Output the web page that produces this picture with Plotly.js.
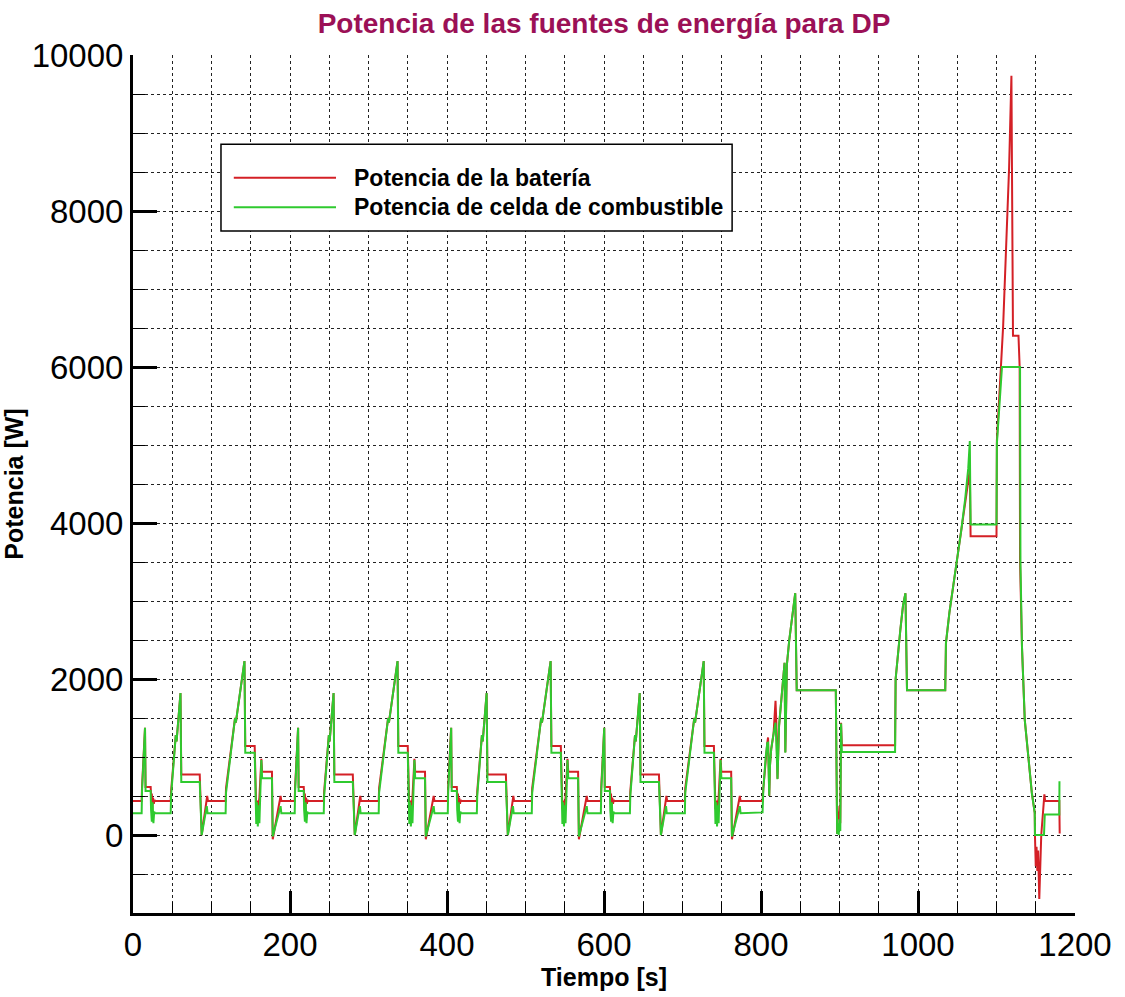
<!DOCTYPE html>
<html>
<head>
<meta charset="utf-8">
<script src="https://cdn.plot.ly/plotly-3.0.1.min.js"></script>
<style>html,body{margin:0;padding:0;background:#fff;}#chart{width:1125px;height:997px;}</style>
</head>
<body>
<div id="chart"></div>
<script>
// ---- Data (time in s, power in W) ----
const seriesNames = ["Potencia de la batería", "Potencia de celda de combustible"];

// Battery power: urban cycles 1..4
const batT_urban = [
  0,11,11.5,15.3,16,22.5,23,24,24.5,25.5,26.5,27.5,28,48,48.5,54.5,55.5,60.5,61.5,85,86,87.5,94.5,95.5,118,118.5,130,131,142,143,155,156,157,158,159.5,161,163.5,164.5,177,178,188,189,
  195,206,206.5,210.3,211,217.5,218,219,219.5,220.5,221.5,222.5,223,243,243.5,249.5,250.5,255.5,256.5,280,281,282.5,289.5,290.5,313,313.5,325,326,337,338,350,351,352,353,354.5,356,358.5,359.5,372,373,383,384,
  390,401,401.5,405.3,406,412.5,413,414,414.5,415.5,416.5,417.5,418,438,438.5,444.5,445.5,450.5,451.5,475,476,477.5,484.5,485.5,508,508.5,520,521,532,533,545,546,547,548,549.5,551,553.5,554.5,567,568,578,579,
  585,596,596.5,600.3,601,607.5,608,609,609.5,610.5,611.5,612.5,613,633,633.5,639.5,640.5,645.5,646.5,670,671,672.5,679.5,680.5,703,703.5,715,716,727,728,740,741,742,743,744.5,746,748.5,749.5,762,763,773,774
];
const batP_urban = [
  435,435,620,1375,615,615,520,520,330,480,400,450,435,435,560,1280,1200,1820,777,777,380,0,500,435,435,600,1500,1440,2230,1140,1140,460,330,440,350,480,978,811,811,-55,500,435,
  435,435,620,1375,615,615,520,520,330,480,400,450,435,435,560,1280,1200,1820,777,777,380,0,500,435,435,600,1500,1440,2230,1140,1140,460,330,440,350,480,978,811,811,-55,500,435,
  435,435,620,1375,615,615,520,520,330,480,400,450,435,435,560,1280,1200,1820,777,777,380,0,500,435,435,600,1500,1440,2230,1140,1140,460,330,440,350,480,978,811,811,-55,500,435,
  435,435,620,1375,615,615,520,520,330,480,400,450,435,435,560,1280,1200,1820,777,777,380,0,500,435,435,600,1500,1440,2230,1140,1140,460,330,440,350,480,978,811,811,-55,500,435
];
// Battery power: extra-urban part
const batT_extra = [802,803,806,808,809,810.5,811.5,813,816,818.5,819.5,821,823,826,830,831,833,836,840,843.6,845.5,895.3,897,898,899,900,901,902,903,970.8,971.5,974,977.5,981,984,986,1034.7,1035.6,1040,1045,1050,1055,1060,1064,1066,1067,1100,1100.5,1108.5,1116,1119,1121,1128,1129.5,1130,1132.5,1136,1145,1148.7,1149,1150,1151,1152,1153,1154.5,1157,1161,1162,1180,1180.5];
const batP_extra = [435,600,1000,1180,1250,500,900,1100,1300,1720,1450,720,1400,1800,2207,1060,2185,2500,2850,3100,1857,1857,13,300,200,375,150,1440,1150,1150,2000,2300,2630,2950,3100,1857,1857,2460,2850,3200,3520,3900,4250,4500,4680,3830,3830,5060,6530,8540,9735,6400,6400,6000,3500,2400,1476,540,285,-10,-400,-150,-460,-200,-820,0,520,435,435,20];

// Fuel cell power: urban cycles 1..4
const fcT_urban = [
  0,11,11.5,15.3,16,22.5,23,24,25,26,27,28,48,48.5,54.5,55.5,60.5,61.5,85,86,87.5,94,95,118,118.5,130,131,142,143,155,156,157,158,159,160,161,163.5,164.5,177,178,188,189,
  195,206,206.5,210.3,211,217.5,218,219,220,221,222,223,243,243.5,249.5,250.5,255.5,256.5,280,281,282.5,289,290,313,313.5,325,326,337,338,350,351,352,353,354,355,356,358.5,359.5,372,373,383,384,
  390,401,401.5,405.3,406,412.5,413,414,415,416,417,418,438,438.5,444.5,445.5,450.5,451.5,475,476,477.5,484,485,508,508.5,520,521,532,533,545,546,547,548,549,550,551,553.5,554.5,567,568,578,579,
  585,596,596.5,600.3,601,607.5,608,609,610,611,612,613,633,633.5,639.5,640.5,645.5,646.5,670,671,672.5,679,680,703,703.5,715,716,727,728,740,741,742,743,744,745,746,748.5,749.5,762,763,773,774
];
const fcP_urban = [
  278,278,560,1375,565,565,320,170,420,150,300,278,278,500,1280,1200,1820,679,679,330,0,370,278,278,540,1500,1440,2230,1055,1055,300,140,420,110,380,150,960,726,726,-20,370,278,
  278,278,560,1375,565,565,320,170,420,150,300,278,278,500,1280,1200,1820,679,679,330,0,370,278,278,540,1500,1440,2230,1055,1055,300,140,420,110,380,150,960,726,726,-20,370,278,
  278,278,560,1375,565,565,320,170,420,150,300,278,278,500,1280,1200,1820,679,679,330,0,370,278,278,540,1500,1440,2230,1055,1055,300,140,420,110,380,150,960,726,726,-20,370,278,
  278,278,560,1375,565,565,320,170,420,150,300,278,278,500,1280,1200,1820,679,679,330,0,370,278,278,540,1500,1440,2230,1055,1055,300,140,420,110,380,150,960,726,726,-20,370,278
];
// Fuel cell power: extra-urban part
const fcT_extra = [802,803,806,808,809,810.5,811.5,813,816,818.5,819.5,821,823,826,830,831,833,836,840,843.6,845.5,895.3,897,898,899,900,901,902,903,970.8,971.5,974,977.5,981,984,986,1034.7,1035.6,1040,1045,1050,1055,1060,1064,1066,1067,1100,1100.5,1107,1130,1130.5,1132.5,1136,1145,1148.7,1149,1160.5,1161.5,1180,1180.2];
const fcP_extra = [290,600,1000,1180,1184,503,900,1100,1300,1440,1200,716,1400,1800,2207,1056,2185,2500,2850,3100,1857,1857,13,150,0,200,50,1430,1065,1065,2000,2300,2630,2950,3100,1857,1857,2460,2850,3200,3520,3900,4300,4700,5050,3980,3980,5020,6000,6000,3500,2400,1476,540,285,0,0,264,264,690];

const xTickStep = 200, xMinorStep = 50;
const yTickStep = 2000, yMinorStep = 500;

// ---- Plot ----
const batColor = '#d42026';
const fcColor = '#2fca2f';
const traces = [
  {x: batT_urban.concat(batT_extra), y: batP_urban.concat(batP_extra), type: 'scatter', mode: 'lines',
   name: seriesNames[0], line: {color: batColor, width: 2}, showlegend: false},
  {x: fcT_urban.concat(fcT_extra), y: fcP_urban.concat(fcP_extra), type: 'scatter', mode: 'lines',
   name: seriesNames[1], line: {color: fcColor, width: 2}, showlegend: false}
];

const sans = 'Liberation Sans, Arial, sans-serif';
const tickFont = {family: sans, size: 33, color: '#000'};
const titleFont = {family: sans, size: 25, color: '#000', weight: 'bold'};
const legendFont = {family: sans, size: 23, color: '#000', weight: 'bold'};
const gridCol = '#222';

const layout = {
  width: 1125, height: 997,
  margin: {l: 133, r: 50, t: 55, b: 84},
  paper_bgcolor: '#fff', plot_bgcolor: '#fff',
  title: {text: 'Potencia de las fuentes de energía para DP', x: 0.5, xref: 'paper', xanchor: 'center',
          y: 0.977, yref: 'container', yanchor: 'middle',
          font: {family: sans, size: 28, color: '#9b1056', weight: 'bold'}},
  xaxis: {
    range: [0, 1200], tickmode: 'linear', tick0: 0, dtick: xTickStep,
    ticks: 'inside', ticklen: 22, tickwidth: 3, tickcolor: '#000',
    showline: true, linewidth: 3, linecolor: '#000', mirror: false, zeroline: false,
    showgrid: true, gridcolor: gridCol, griddash: 'dot', gridwidth: 1,
    minor: {tickmode: 'linear', tick0: 0, dtick: xMinorStep, ticks: 'inside', ticklen: 11, tickwidth: 1, tickcolor: '#000',
            showgrid: true, gridcolor: gridCol, griddash: 'dot', gridwidth: 1},
    tickfont: tickFont, tickformat: 'd',
    title: {text: 'Tiempo [s]', font: titleFont, standoff: 2}
  },
  yaxis: {
    range: [-1000, 10000], tickmode: 'linear', tick0: 0, dtick: yTickStep,
    ticks: 'inside', ticklen: 24, tickwidth: 3, tickcolor: '#000',
    showline: true, linewidth: 3, linecolor: '#000', mirror: false, zeroline: false,
    showgrid: true, gridcolor: gridCol, griddash: 'dot', gridwidth: 1,
    minor: {tickmode: 'linear', tick0: 0, dtick: yMinorStep, ticks: 'inside', ticklen: 12, tickwidth: 1, tickcolor: '#000',
            showgrid: true, gridcolor: gridCol, griddash: 'dot', gridwidth: 1},
    tickfont: tickFont, tickformat: 'd',
    title: {text: 'Potencia [W]', font: titleFont, standoff: 2}
  },
  shapes: [
    {type: 'rect', xref: 'paper', yref: 'paper', x0: 0.0934, x1: 0.636, y0: 0.795, y1: 0.896,
     line: {color: '#000', width: 1.5}, fillcolor: '#fff', layer: 'above'},
    {type: 'line', xref: 'paper', yref: 'paper', x0: 0.107, x1: 0.2155, y0: 0.857, y1: 0.857,
     line: {color: batColor, width: 2}, layer: 'above'},
    {type: 'line', xref: 'paper', yref: 'paper', x0: 0.107, x1: 0.2155, y0: 0.8225, y1: 0.8225,
     line: {color: fcColor, width: 2}, layer: 'above'}
  ],
  annotations: [
    {xref: 'paper', yref: 'paper', x: 0.2325, y: 0.857, xanchor: 'left', yanchor: 'middle', showarrow: false,
     text: seriesNames[0], font: legendFont},
    {xref: 'paper', yref: 'paper', x: 0.2325, y: 0.8225, xanchor: 'left', yanchor: 'middle', showarrow: false,
     text: seriesNames[1], font: legendFont}
  ]
};

Plotly.newPlot('chart', traces, layout, {displayModeBar: false, staticPlot: true});
</script>
</body>
</html>
